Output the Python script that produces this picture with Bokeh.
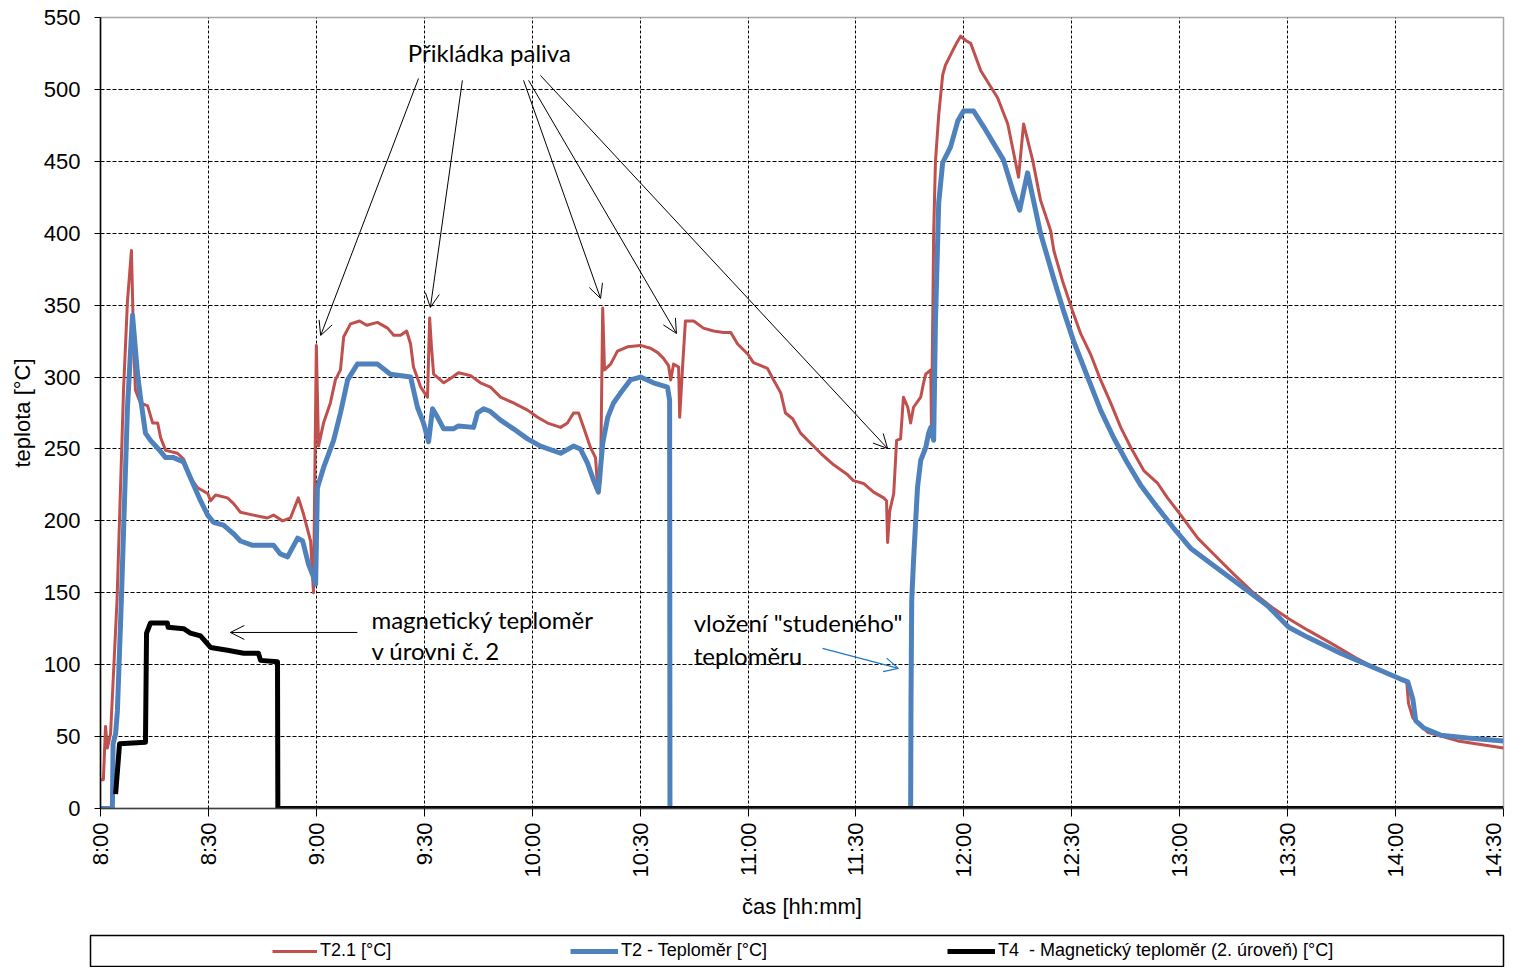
import math
from bokeh.plotting import figure
from bokeh.models import (Range1d, FixedTicker, Label, Arrow, OpenHead,
                          Legend, LegendItem)
from bokeh.layouts import column
from bokeh.embed import file_html
from bokeh.resources import INLINE

# ---------------- data (minutes after 8:00, temperature in °C) ----------------
tick_minutes = [0, 30, 60, 90, 120, 150, 180, 210, 240, 270, 300, 330, 360, 390]
tick_labels = ["8:00", "8:30", "9:00", "9:30", "10:00", "10:30", "11:00",
               "11:30", "12:00", "12:30", "13:00", "13:30", "14:00", "14:30"]
y_ticks = [0, 50, 100, 150, 200, 250, 300, 350, 400, 450, 500, 550]

t21_min = [0, 0.8, 1.4, 1.9, 2.8, 4.6, 6.4, 7.5, 8.6, 9.2, 9.7, 11.1, 13.1, 14.5,
           15.9, 16.7, 18.1, 21.4, 23.1, 25.0, 27.0, 29.8, 30.6, 32.0, 35.3, 37.0,
           38.9, 42.5, 46.4, 48.1, 50.6, 52.8, 55.0, 56.4, 58.4, 59.2, 60.0, 60.6,
           62.0, 63.9, 65.3, 66.7, 67.6, 69.5, 72.0, 74.0, 77.0, 79.8, 81.5, 83.4,
           85.1, 86.2, 87.0, 89.0, 90.9, 91.5, 92.0, 92.6, 94.0, 95.4, 97.3, 99.5,
           102.9, 105.6, 108.4, 111.2, 114.8, 118.7, 121.5, 124.3, 127.9, 129.8,
           131.5, 132.9, 134.3, 136.2, 137.6, 138.2, 139.0, 139.6, 140.1, 141.8,
           143.7, 146.5, 150.1, 152.9, 154.9, 156.5, 157.9, 158.5, 159.3, 160.7,
           161.0, 161.8, 162.6, 164.9, 167.6, 170.4, 173.2, 175.2, 177.1, 179.9,
           181.5, 185.4, 187.1, 189.1, 190.4, 192.4, 194.6, 197.4, 200.2, 203.8,
           207.7, 209.3, 212.1, 214.9, 217.7, 218.5, 218.8, 219.4, 220.5, 221.3,
           222.4, 223.2, 224.4, 225.2, 226.0, 228.0, 228.8, 229.4, 230.8, 231.0,
           231.6, 232.1, 233.0, 234.1, 234.9, 236.3, 237.7, 239.1, 240.5, 241.9,
           244.7, 249.4, 252.2, 255.2, 256.6, 259.1, 261.3, 264.1, 265.0, 267.4,
           270.2, 272.5, 275.2, 278.0, 280.8, 283.6, 286.4, 290.0, 293.9, 296.6,
           300.3, 305.0, 309.4, 315.0, 320.5, 326.1, 330.3, 335.6, 342.0, 349.5,
           353.9, 361.4, 363.1, 363.6, 364.8, 368.9, 377.3, 390.0]
t21_val = [20, 20, 57, 42, 52, 145, 291, 353, 388, 325, 291, 282, 280, 268,
           268, 258, 249, 247, 243, 230, 223, 219, 214, 218, 216, 212,
           206, 204, 202, 204, 200, 202, 216, 205, 186, 150, 322, 252,
           268, 282, 298, 305, 328, 337, 339, 336, 338, 334, 329, 329,
           332, 323, 307, 293, 286, 341, 321, 302, 299, 296, 299, 303,
           301, 296, 293, 286, 282, 277, 272, 268, 265, 268,
           275, 275, 265, 251, 244, 223, 228, 348, 305, 309,
           318, 321, 322, 320, 317, 313, 308, 298, 309, 307,
           272, 307, 339, 339, 334, 332, 331, 331, 323, 316,
           310, 306, 298, 289, 275, 271, 261, 254, 247, 239,
           232, 228, 226, 220, 216, 214, 185, 207, 219, 256,
           257, 286, 279, 268, 279, 286, 296, 302, 305, 262,
           400, 450, 482, 510, 517, 524, 531, 537, 534, 532,
           513, 494, 476, 439, 476, 451, 423, 402, 388, 367,
           346, 330, 316, 298, 282, 265, 251, 235, 226, 216,
           204, 188, 177, 163, 150, 139, 132, 124, 115, 104,
           98, 90, 88, 73, 63, 53, 47, 42]

t2_min = [0, 3.3, 3.5, 4.2, 4.7, 5.8, 7.5, 8.9, 10.3, 11.1, 12.5, 13.9, 16.1,
          18.1, 20.3, 23.1, 25.0, 27.8, 29.8, 31.4, 34.2, 37.0, 38.9, 42.3, 48.1,
          50.0, 52.0, 54.8, 56.2, 57.8, 59.2, 59.8, 60.3, 62.0, 64.8, 66.7, 68.7,
          71.4, 77.0, 80.6, 86.2, 88.1, 89.8, 91.2, 92.3, 93.7, 95.4, 98.1, 99.5,
          103.7, 104.8, 106.5, 108.4, 111.2, 114.8, 118.7, 122.3, 127.9, 131.5,
          133.4, 135.4, 137.1, 138.4, 139.6, 141.0, 142.6, 144.6, 147.3, 150.1,
          153.7, 157.6, 158.2, 158.3, 225.2, 225.3, 225.5, 226.0, 227.1, 228.0,
          229.4, 230.2, 230.8, 231.6, 232.1, 233.0, 234.1, 236.3, 238.3, 239.9,
          242.7, 245.5, 251.0, 253.8, 255.5, 257.7, 261.3, 262.7, 264.9, 267.7,
          270.5, 274.4, 278.0, 281.6, 285.5, 289.1, 293.9, 298.3, 303.0, 309.4,
          316.9, 324.4, 330.3, 335.6, 344.7, 353.9, 361.4, 363.4, 364.8, 365.6,
          367.8, 372.5, 380.0, 390.0]
t2_val = [0, 0, 45, 52, 68, 145, 279, 343, 302, 286, 261, 256, 250,
          244, 244, 241, 230, 214, 204, 199, 197, 191, 186, 183, 183,
          177, 175, 188, 186, 170, 161, 156, 223, 237, 256, 275, 298,
          309, 309, 302, 300, 279, 268, 255, 278, 272, 264, 264, 266,
          265, 275, 278, 276, 270, 264, 257, 252, 247, 252,
          250, 240, 228, 220, 254, 272, 282, 289, 298, 300,
          296, 293, 284, 0, 0, 75, 145, 172, 223, 242,
          251, 261, 265, 256, 339, 421, 449, 460, 478, 485,
          485, 474, 451, 428, 416, 442, 400, 388, 369, 346,
          325, 300, 277, 258, 240, 225, 209, 195, 181, 169,
          155, 141, 126, 119, 108, 98, 90, 88, 76, 61,
          56, 51, 49, 47]

t4_min = [4.2, 5.3, 12.5, 12.8, 13.9, 18.6, 18.8, 23.1, 25.0, 27.8, 30.6, 35.3,
          39.8, 43.9, 44.5, 49.2, 49.3, 390.0]
t4_val = [10, 45, 46, 122, 129, 129, 126, 125, 122, 120, 112, 110,
          108, 108, 103, 102, 0, 0]

series_names = ["T2.1 [°C]", "T2 - Teploměr [°C]",
                "T4  - Magnetický teploměr (2. úroveň) [°C]"]
series_colors = ["#C0504D", "#4F81BD", "#000000"]
series_widths = [3, 5, 5]

# ---------------- main chart ----------------
p = figure(width=1505, height=929, title=None,
           x_range=Range1d(0, 390), y_range=Range1d(0, 550),
           toolbar_location=None, output_backend="svg",
           min_border_left=100, min_border_right=2,
           min_border_top=17, min_border_bottom=121)
p.frame_align = False
p.background_fill_color = "white"
p.border_fill_color = "white"
p.outline_line_color = "#a6a6a6"
p.outline_line_width = 1.5

# grid
p.xgrid.ticker = FixedTicker(ticks=tick_minutes[1:-1])
p.ygrid.ticker = FixedTicker(ticks=y_ticks[1:-1])
p.xgrid.grid_line_color = "black"
p.ygrid.grid_line_color = "black"
p.xgrid.grid_line_dash = "3 2"
p.ygrid.grid_line_dash = "4 2"
p.xgrid.grid_line_width = 1
p.ygrid.grid_line_width = 1

# axes
p.xaxis.ticker = FixedTicker(ticks=tick_minutes)
p.xaxis.major_label_overrides = {m: l for m, l in zip(tick_minutes, tick_labels)}
p.yaxis.ticker = FixedTicker(ticks=y_ticks)
for ax in (p.xaxis, p.yaxis):
    ax.major_label_text_font = "Liberation Sans"
    ax.major_label_text_font_size = "22px"
    ax.major_label_text_color = "black"
    ax.axis_label_text_font = "Liberation Sans"
    ax.axis_label_text_font_size = "22px"
    ax.axis_label_text_font_style = "normal"
    ax.axis_label_text_color = "black"
    ax.minor_tick_line_color = None
    ax.major_tick_in = 0
    ax.major_tick_line_color = "black"
p.xaxis.axis_label = "čas [hh:mm]"
p.yaxis.axis_label = "teplota [°C]"
p.xaxis.major_label_orientation = math.pi / 2
p.xaxis.major_tick_out = 8
p.xaxis.major_label_standoff = 6
p.xaxis.axis_label_standoff = 13
p.xaxis.axis_line_color = "#404040"
p.xaxis.axis_line_width = 1.5
p.yaxis.major_tick_out = 6
p.yaxis.major_label_standoff = 14
p.yaxis.axis_label_standoff = 6
p.yaxis.axis_line_color = "black"
p.yaxis.axis_line_width = 1.5

# series
for xs, ys, c, w in zip([t21_min, t2_min, t4_min], [t21_val, t2_val, t4_val],
                        series_colors, series_widths):
    p.line(xs, ys, line_color=c, line_width=w, line_join="round")

# annotations
ann_font = "Lato"
ann_size = "24px"
p.add_layout(Label(x=108.1, y=525.7, text="Přikládka paliva", text_align="center",
                   text_baseline="middle", text_font=ann_font,
                   text_font_size=ann_size, text_color="black"))
fuel_arrows = [((88.4, 507.6), (61.2, 328.9)),
               ((100.6, 506.3), (91.7, 348.4)),
               ((117.6, 506.3), (139.0, 354.7)),
               ((119.0, 506.3), (160.1, 330.3)),
               ((122.3, 509.7), (218.8, 250.3))]
for (xs0, ys0), (xe, ye) in fuel_arrows:
    p.add_layout(Arrow(x_start=xs0, y_start=ys0, x_end=xe, y_end=ye,
                       line_color="black", line_width=1,
                       end=OpenHead(size=14, line_color="black", line_width=1)))

p.add_layout(Label(x=75.3, y=131.4, text="magnetický teploměr", text_align="left",
                   text_baseline="middle", text_font=ann_font,
                   text_font_size=ann_size, text_color="black"))
p.add_layout(Label(x=75.3, y=109.9, text="v úrovni č. 2", text_align="left",
                   text_baseline="middle", text_font=ann_font,
                   text_font_size=ann_size, text_color="black"))
p.add_layout(Arrow(x_start=71.4, y_start=122.4, x_end=36.1, y_end=122.4,
                   line_color="black", line_width=1,
                   end=OpenHead(size=14, line_color="black", line_width=1)))

p.add_layout(Label(x=164.9, y=129.3, text='vložení "studeného"', text_align="left",
                   text_baseline="middle", text_font=ann_font,
                   text_font_size=ann_size, text_color="black"))
p.add_layout(Label(x=164.9, y=106.4, text="teploměru", text_align="left",
                   text_baseline="middle", text_font=ann_font,
                   text_font_size=ann_size, text_color="black"))
p.add_layout(Arrow(x_start=200.7, y_start=111.3, x_end=221.8, y_end=97.4,
                   line_color="#1f78c8", line_width=1.2,
                   end=OpenHead(size=14, line_color="#1f78c8", line_width=1.2)))

# ---------------- legend strip ----------------
lg = figure(width=1505, height=38, title=None,
            x_range=Range1d(0, 1), y_range=Range1d(0, 1),
            toolbar_location=None, output_backend="svg",
            x_axis_location=None, y_axis_location=None,
            min_border_left=90, min_border_right=2,
            min_border_top=6, min_border_bottom=0)
lg.frame_align = False
lg.grid.visible = False
lg.outline_line_color = "black"
lg.outline_line_width = 1.5
lg.background_fill_color = "white"
lg.border_fill_color = "white"

legend_x = [182, 480, 857]
glyph_w = [45, 48, 48]
for name, c, w, lx, gw in zip(series_names, series_colors, series_widths,
                              legend_x, glyph_w):
    # hidden sample line (outside the visible range) that gives the legend its glyph
    r = lg.line([-5, -4], [-5, -5], line_color=c, line_width=w)
    leg = Legend(items=[LegendItem(label=name, renderers=[r])],
                 location=(lx, 6), orientation="horizontal",
                 padding=0, margin=0, spacing=0,
                 glyph_width=gw, glyph_height=20, label_height=20,
                 label_standoff=3,
                 label_text_font="Liberation Sans", label_text_font_size="18px",
                 label_text_color="black",
                 border_line_alpha=0, background_fill_alpha=0)
    lg.add_layout(leg, "center")

layout = column(p, lg, spacing=0)
open("out.html", "w").write(file_html(layout, INLINE))
